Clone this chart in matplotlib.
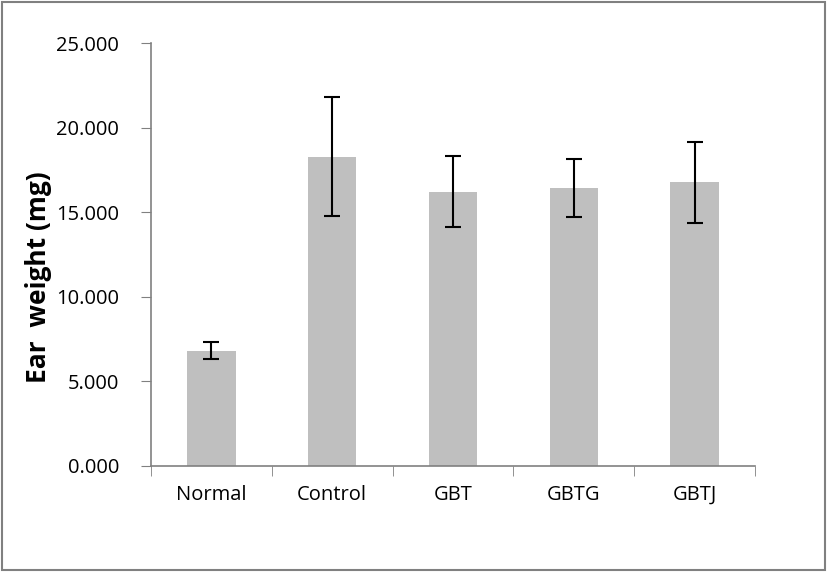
import matplotlib
matplotlib.use("Agg")
import matplotlib.pyplot as plt
from matplotlib.patches import Rectangle
import numpy as np

groups = ["Normal", "Control", "GBT", "GBTG", "GBTJ"]
weight = [6.80, 18.28, 16.21, 16.41, 16.75]
err = [0.52, 3.51, 2.12, 1.71, 2.37]

plt.rcParams['font.family'] = ['Open Sans', 'DejaVu Sans']

fig = plt.figure(figsize=(8.27, 5.72), dpi=100)
ax = fig.add_axes([0.1826, 0.186, 0.7304, 0.7388])

x = np.arange(len(groups))
ax.bar(x, weight, width=0.4, color="#bfbfbf", zorder=2)
ax.errorbar(x, weight, yerr=err, fmt="none", ecolor="black", elinewidth=1.5,
            capsize=6, capthick=1.5, zorder=3)

ax.set_xlim(-0.5, len(groups) - 0.5)
ax.set_ylim(0, 25)
ax.set_yticks(np.arange(0, 25.1, 5))
ax.set_yticklabels([f"{v:.3f}" for v in np.arange(0, 25.1, 5)], fontsize=14.5)
ax.set_xticks(x)
ax.set_xticklabels(groups, fontsize=14.5)
ax.set_xticks(np.arange(-0.5, len(groups)), minor=True)
ax.tick_params(axis="x", which="major", length=0, pad=14)
ax.tick_params(axis="x", which="minor", length=7, color="#808080", direction="out")
ax.tick_params(axis="y", length=7, color="#808080", direction="out", pad=16)

for s in ["top", "right"]:
    ax.spines[s].set_visible(False)
for s in ["left", "bottom"]:
    ax.spines[s].set_color("#808080")
    ax.spines[s].set_linewidth(1.2)

ax.set_ylabel("Ear  weight (mg)", fontsize=19, fontweight="bold")
ax.yaxis.set_label_coords(-0.164, 0.446)

fig.patches.append(Rectangle((0.002, 0.003), 0.996, 0.994, transform=fig.transFigure,
                             fill=False, edgecolor="#808080", linewidth=1.5))

fig.savefig("out.png", dpi=100)
